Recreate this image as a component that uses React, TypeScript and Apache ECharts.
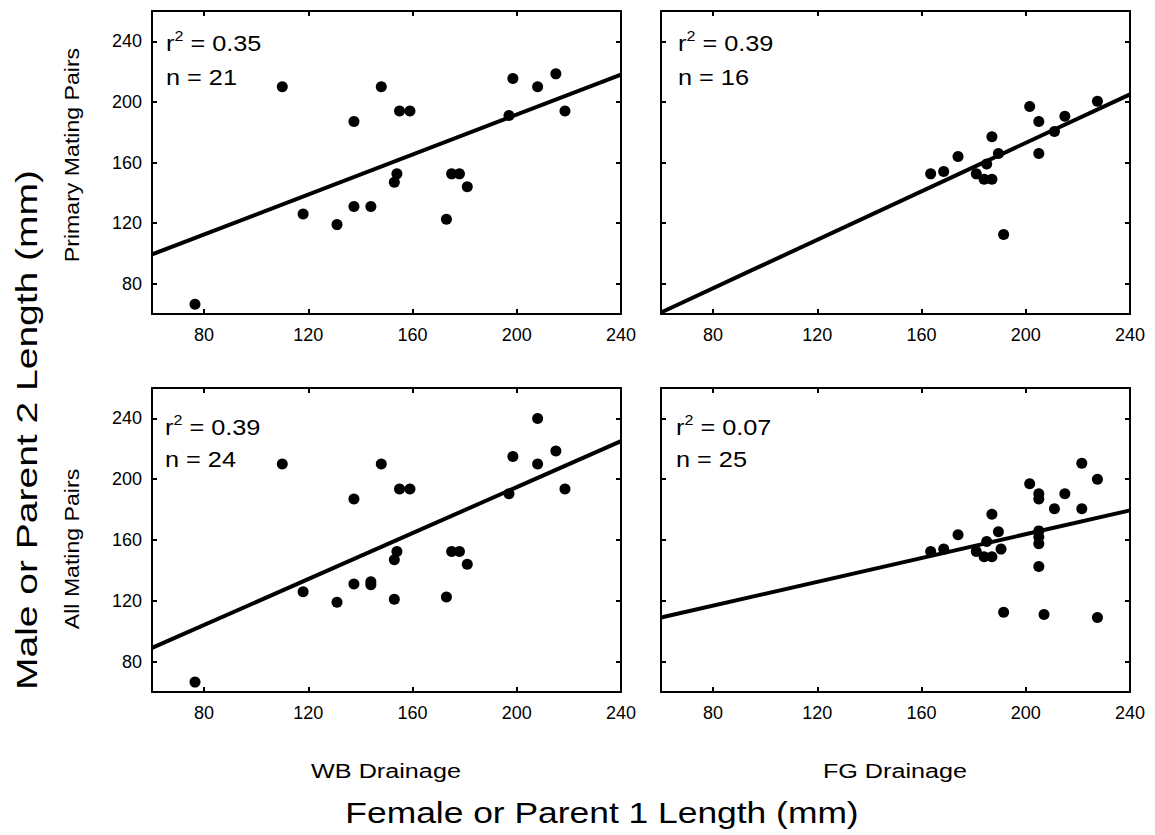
import React, { useEffect, useRef } from "react";
import * as echarts from "echarts";

const xTicks = [80, 120, 160, 200, 240];
const yTicks = [80, 120, 160, 200, 240];

const drainages = ["WB Drainage", "FG Drainage"];
const pairTypes = ["Primary Mating Pairs", "All Mating Pairs"];
const xTitle = "Female or Parent 1 Length (mm)";
const yTitle = "Male or Parent 2 Length (mm)";

// Top-left: WB, primary pairs
const wbPrimaryFemale = [76.5, 110, 118, 131, 137.5, 137.5, 144, 148, 153, 154, 155, 159, 173, 175, 178, 181, 197, 198.5, 208, 215, 218.5];
const wbPrimaryMale = [66.5, 210, 126, 119, 187, 131, 131, 210, 147, 152.5, 194, 194, 122.5, 152.5, 152.5, 144, 191, 215.5, 210, 218.5, 194];

// Top-right: FG, primary pairs
const fgPrimaryFemale = [163.5, 168.5, 174, 181, 184, 185, 187, 187, 189.5, 191.5, 201.5, 205, 205, 211, 215, 227.5];
const fgPrimaryMale = [152.5, 154, 164, 152.5, 149, 159, 177, 149, 166, 112.5, 197, 187, 166, 180.5, 190.5, 200.5];

// Bottom-left: WB, all pairs
const wbAllFemale = [76.5, 110, 118, 131, 137.5, 137.5, 144, 144, 148, 153, 154, 153, 155, 159, 173, 175, 178, 181, 197, 198.5, 208, 208, 215, 218.5];
const wbAllMale = [66.5, 210, 126, 119, 187, 131, 132.5, 130.5, 210, 147, 152.5, 121, 193.5, 193.5, 122.5, 152.5, 152.5, 144, 190.5, 215, 240, 210, 218.5, 193.5];

// Bottom-right: FG, all pairs
const fgAllFemale = [163.5, 168.5, 174, 181, 184, 185, 187, 187, 189.5, 190.5, 191.5, 201.5, 205, 205, 205, 205, 205, 205, 207, 211, 215, 221.5, 221.5, 227.5, 227.5];
const fgAllMale = [152.5, 154, 163.5, 152.5, 149, 159, 177, 149, 165.5, 154, 112.5, 197, 190.5, 187, 166, 162, 157.5, 142.5, 111, 180.5, 190.5, 210.5, 180.5, 200, 109];

// Regression lines: [x0, y0, x1, y1]
const wbPrimaryFit = [60, 99.3, 240, 218];
const fgPrimaryFit = [60, 61, 240, 205];
const wbAllFit = [60, 89, 240, 225];
const fgAllFit = [60, 109, 240, 179.5];

const rSquared = ["0.35", "0.39", "0.39", "0.07"];
const nValues = ["21", "16", "24", "25"];

const FONT = "'Liberation Sans', Arial, Helvetica, sans-serif";

const panels = [
  { fx: wbPrimaryFemale, my: wbPrimaryMale, fit: wbPrimaryFit },
  { fx: fgPrimaryFemale, my: fgPrimaryMale, fit: fgPrimaryFit },
  { fx: wbAllFemale, my: wbAllMale, fit: wbAllFit },
  { fx: fgAllFemale, my: fgAllMale, fit: fgAllFit },
];

const gridBoxes = [
  { left: 152, top: 11, width: 469, height: 303 },
  { left: 661, top: 11, width: 469, height: 303 },
  { left: 152, top: 388, width: 469, height: 304 },
  { left: 661, top: 388, width: 469, height: 304 },
];

const annotPos = [
  { x: 166, y1: 42, y2: 78 },
  { x: 678, y1: 42, y2: 78 },
  { x: 165, y1: 426, y2: 460 },
  { x: 676, y1: 426, y2: 460 },
];

function buildOption() {
  const grid: any[] = [];
  const xAxis: any[] = [];
  const yAxis: any[] = [];
  const series: any[] = [];
  const graphic: any[] = [];

  const axisLine = { show: true, onZero: false, lineStyle: { color: "#000", width: 2 } };

  panels.forEach((p, i) => {
    grid.push({ ...gridBoxes[i], containLabel: false });
    const tickCommon = { show: true, inside: true, length: 5, lineStyle: { color: "#000", width: 2 } };
    xAxis.push({
      type: "value", gridIndex: i, min: 60, max: 240, position: "bottom",
      axisLine,
      axisTick: { ...tickCommon, customValues: xTicks },
      axisLabel: { show: true, customValues: xTicks, color: "#000", fontSize: 18, fontFamily: FONT, margin: 12 },
      splitLine: { show: false },
    });
    xAxis.push({
      type: "value", gridIndex: i, min: 60, max: 240, position: "top",
      axisLine,
      axisTick: { ...tickCommon, customValues: xTicks },
      axisLabel: { show: false },
      splitLine: { show: false },
    });
    yAxis.push({
      type: "value", gridIndex: i, min: 60, max: 260, position: "left",
      axisLine,
      axisTick: { ...tickCommon, customValues: yTicks },
      axisLabel: { show: i % 2 === 0, customValues: yTicks, color: "#000", fontSize: 18, fontFamily: FONT, margin: 10 },
      splitLine: { show: false },
    });
    yAxis.push({
      type: "value", gridIndex: i, min: 60, max: 260, position: "right",
      axisLine,
      axisTick: { ...tickCommon, customValues: yTicks },
      axisLabel: { show: false },
      splitLine: { show: false },
    });

    series.push({
      type: "line",
      xAxisIndex: i * 2,
      yAxisIndex: i * 2,
      data: [[p.fit[0], p.fit[1]], [p.fit[2], p.fit[3]]],
      symbol: "none",
      clip: true,
      lineStyle: { color: "#000", width: 4 },
      silent: true,
      z: 2,
    });
    series.push({
      type: "scatter",
      xAxisIndex: i * 2,
      yAxisIndex: i * 2,
      data: p.fx.map((v, k) => [v, p.my[k]]),
      symbol: "circle",
      symbolSize: 11,
      itemStyle: { color: "#000", opacity: 1 },
      z: 3,
    });

    const a = annotPos[i];
    graphic.push({
      type: "text",
      x: a.x,
      y: a.y1,
      scaleX: 1.15,
      style: {
        text: `{b|r}{s|2}{b| = ${rSquared[i]}}`,
        fill: "#000",
        align: "left",
        verticalAlign: "middle",
        rich: {
          b: { fontSize: 22, fontFamily: FONT, fill: "#000", lineHeight: 26, verticalAlign: "bottom" },
          s: { fontSize: 14, fontFamily: FONT, fill: "#000", lineHeight: 26, verticalAlign: "top" },
        },
      },
    });
    graphic.push({
      type: "text",
      x: a.x,
      y: a.y2,
      scaleX: 1.15,
      style: {
        text: `n = ${nValues[i]}`,
        fill: "#000",
        font: `22px ${FONT}`,
        align: "left",
        verticalAlign: "middle",
      },
    });
  });

  // Row labels (rotated)
  graphic.push({
    type: "text", x: 72, y: 155, rotation: Math.PI / 2, scaleX: 1.1,
    style: { text: pairTypes[0], fill: "#000", font: `21px ${FONT}`, align: "center", verticalAlign: "middle" },
  });
  graphic.push({
    type: "text", x: 72, y: 549, rotation: Math.PI / 2, scaleX: 1.1,
    style: { text: pairTypes[1], fill: "#000", font: `21px ${FONT}`, align: "center", verticalAlign: "middle" },
  });
  graphic.push({
    type: "text", x: 27, y: 430, rotation: Math.PI / 2, scaleX: 1.3,
    style: { text: yTitle, fill: "#000", font: `30px ${FONT}`, align: "center", verticalAlign: "middle" },
  });
  // Column labels
  graphic.push({
    type: "text", x: 386, y: 771, scaleX: 1.2,
    style: { text: drainages[0], fill: "#000", font: `21px ${FONT}`, align: "center", verticalAlign: "middle" },
  });
  graphic.push({
    type: "text", x: 895, y: 771, scaleX: 1.2,
    style: { text: drainages[1], fill: "#000", font: `21px ${FONT}`, align: "center", verticalAlign: "middle" },
  });
  graphic.push({
    type: "text", x: 602, y: 812, scaleX: 1.18,
    style: { text: xTitle, fill: "#000", font: `30px ${FONT}`, align: "center", verticalAlign: "middle" },
  });

  return {
    animation: false,
    backgroundColor: "#fff",
    grid,
    xAxis,
    yAxis,
    series,
    graphic,
  };
}

export default function App() {
  const ref = useRef<HTMLDivElement>(null);
  useEffect(() => {
    if (!ref.current) return;
    const chart = echarts.init(ref.current, null, { renderer: "svg" });
    chart.setOption(buildOption());
    return () => chart.dispose();
  }, []);
  return (
    <div
      ref={ref}
      style={{ position: "fixed", left: 0, top: 0, width: 1155, height: 835, background: "#fff" }}
    />
  );
}
